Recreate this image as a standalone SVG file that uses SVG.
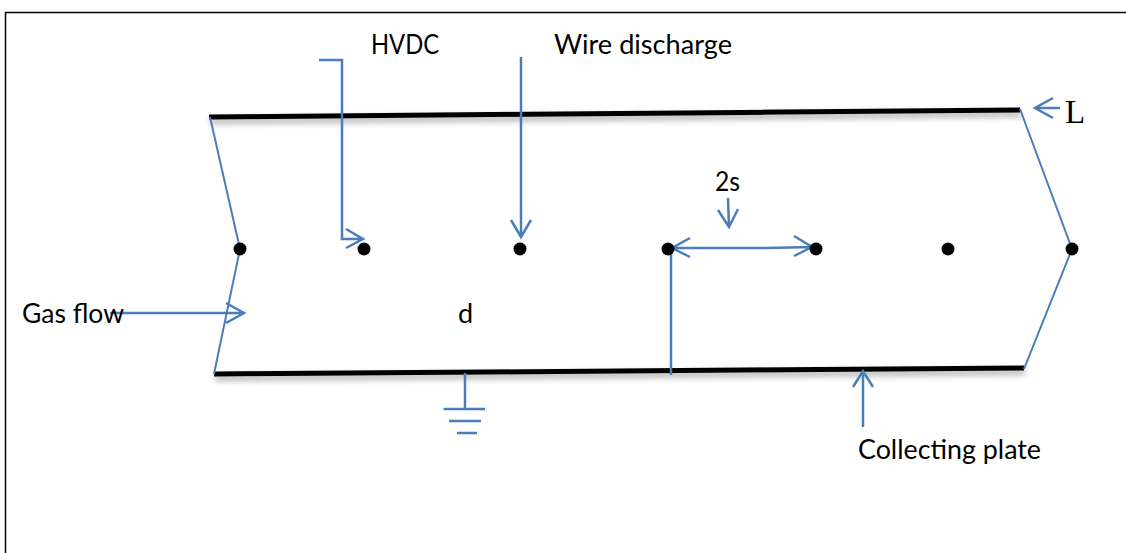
<svg xmlns="http://www.w3.org/2000/svg" width="1126" height="553" viewBox="0 0 1126 553">
<defs>
<filter id="shadow" filterUnits="userSpaceOnUse" x="180" y="80" width="880" height="320">
<feDropShadow dx="1" dy="4" stdDeviation="3" flood-color="#000" flood-opacity="0.35"/>
</filter>
</defs>
<style>
.c{fill:none;stroke:#4a7ebb;stroke-width:2.500}
.s{fill:none;stroke:#4a7ebb;stroke-width:2}
.p{fill:none;stroke:#000;stroke-width:5}
.d{fill:#000}
.t{font-family:Lato,"Open Sans","Liberation Sans",sans-serif;font-size:27px;fill:#000}
</style>
<rect width="1126" height="553" fill="#fff"/>
<path d="M5.500 553V12.500H1126" fill="none" stroke="#000" stroke-width="1.500"/>
<g id="plates">
<path class="p" filter="url(#shadow)" d="M209 117L1020 110"/>
<path class="p" filter="url(#shadow)" d="M214 374L1024 368"/>
</g>
<g id="connectors">
<path class="s" d="M210 117L240 249L214 374"/>
<path class="s" d="M1020 109L1072 249L1024 369"/>
<path class="c" d="M319 60H342V239H363M346 229L363 239L346 248"/>
<path class="c" d="M521 57V237M511 220L521 237L531 220"/>
<path class="c" d="M728 198L729 227M718 210L729 227L738 209"/>
<path class="c" d="M671 375V248H768L812 247M690 238L672 248L690 257M794 236L812 247L794 256"/>
<path class="c" d="M110 313H244M226 303L244 313L226 323"/>
<path class="c" d="M465 373V409M443.500 409H485M449 421H481M457 433H477"/>
<path class="c" d="M863 427V371M853 387L863 371L873 387"/>
<path class="c" d="M1060 108H1035M1053 98L1035 108L1053 118"/>
</g>
<g id="dots">
<circle class="d" cx="240" cy="249" r="6.500"/>
<circle class="d" cx="364" cy="249" r="6.500"/>
<circle class="d" cx="520" cy="249" r="6.500"/>
<circle class="d" cx="668" cy="249" r="6.500"/>
<circle class="d" cx="816" cy="249" r="6.500"/>
<circle class="d" cx="948" cy="249" r="6.500"/>
<circle class="d" cx="1072" cy="249" r="6.500"/>
</g>
<g id="labels">
<text class="t" x="371" y="54" textLength="68" lengthAdjust="spacingAndGlyphs">HVDC</text>
<text class="t" x="554" y="54" textLength="178" lengthAdjust="spacingAndGlyphs">Wire discharge</text>
<text class="t" x="715" y="191" textLength="25" lengthAdjust="spacingAndGlyphs">2s</text>
<text class="t" x="22" y="323" textLength="102" lengthAdjust="spacingAndGlyphs">Gas flow</text>
<text class="t" x="458" y="323">d</text>
<text class="t" x="858" y="459" textLength="183" lengthAdjust="spacingAndGlyphs">Collecting plate</text>
<text x="1065" y="123" font-family="Liberation Serif,serif" font-size="33">L</text>
</g>
</svg>
